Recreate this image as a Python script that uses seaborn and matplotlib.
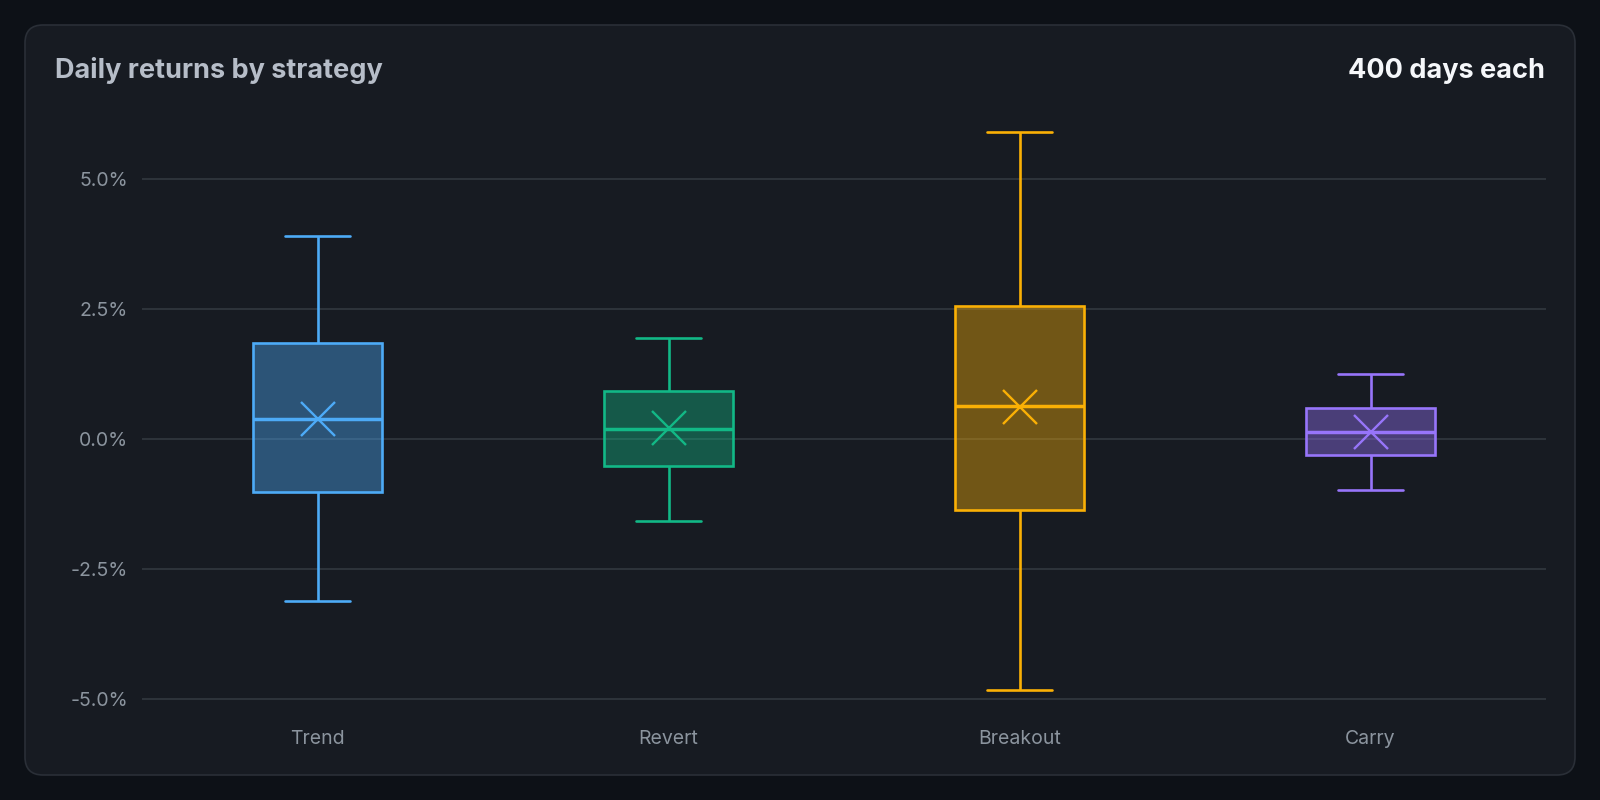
import pandas as pd
import seaborn as sns
import matplotlib.pyplot as plt
from matplotlib.colors import to_rgba
from matplotlib.patches import FancyBboxPatch
from matplotlib.ticker import FuncFormatter

# Strategies and their colours
strategies = ['Trend', 'Revert', 'Breakout', 'Carry']
colors = ['#4dabf7', '#12b886', '#fab005', '#9775fa']

# Five-number summaries of daily returns (%)
lows = [-3.11, -1.57, -4.83, -0.98]
q1s = [-1.02, -0.51, -1.36, -0.30]
medians = [0.39, 0.19, 0.64, 0.14]
q3s = [1.84, 0.92, 2.56, 0.60]
highs = [3.91, 1.95, 5.92, 1.26]
means = [0.39, 0.21, 0.62, 0.14]

yticks = [-5.0, -2.5, 0.0, 2.5, 5.0]

# long table: the five summary values per strategy reproduce the box exactly
rows = []
for i, name in enumerate(strategies):
    for v in (lows[i], q1s[i], medians[i], q3s[i], highs[i]):
        rows.append({'strategy': name, 'ret': v})
df = pd.DataFrame(rows)
mean_df = pd.DataFrame({'strategy': strategies, 'mean': means})

sns.set_theme(style='dark')
plt.rcParams['font.family'] = ['Inter', 'DejaVu Sans']
plt.rcParams['axes.unicode_minus'] = False

BG = '#0d1117'
CARD = '#171b22'
GRID = '#30363d'
TICK = '#8b949e'

fig = plt.figure(figsize=(16, 8), dpi=100)
fig.patch.set_facecolor(BG)

card = FancyBboxPatch((0.25, 0.25), 15.5, 7.5,
                      boxstyle='round,pad=0,rounding_size=0.18',
                      transform=fig.dpi_scale_trans,
                      facecolor=CARD, edgecolor='#2a2f37', linewidth=1.2,
                      zorder=-10)
fig.add_artist(card)

ax = fig.add_axes([0.08875, 0.1071, 0.8775, 0.7531])
ax.set_facecolor('none')
ax.set_zorder(1)

for name, c in zip(strategies, colors):
    sub = df[df['strategy'] == name]
    sns.boxplot(data=sub, x='strategy', y='ret', order=strategies,
                color=c, linecolor=c, saturation=1, whis=(0, 100),
                width=0.37, linewidth=1.9, showfliers=False,
                medianprops=dict(linewidth=2.5), ax=ax)

for patch, c in zip(ax.patches, colors):
    patch.set_facecolor(to_rgba(c, 0.4))
    patch.set_edgecolor(c)

sns.pointplot(data=mean_df, x='strategy', y='mean', order=strategies,
              hue='strategy', palette=colors, markers='x', linestyle='none',
              markersize=24, markeredgewidth=1.7, errorbar=None,
              legend=False, ax=ax)
for ln in ax.lines[-4:]:
    ln.set_zorder(6)

ax.set_xlim(-0.5, 3.5)
ax.set_ylim(-5.3, 6.3)
ax.set_yticks(yticks)
ax.yaxis.set_major_formatter(FuncFormatter(lambda v, p: f'{v:.1f}%'))
ax.grid(axis='y', color=GRID, linewidth=1.3)
ax.grid(axis='x', visible=False)
ax.set_axisbelow(True)
for s in ax.spines.values():
    s.set_visible(False)
ax.tick_params(axis='both', length=0, colors=TICK, labelsize=14)
ax.tick_params(axis='y', pad=10)
ax.tick_params(axis='x', pad=11)
ax.set_xlabel('')
ax.set_ylabel('')

fig.text(55 / 1600, 1 - 71 / 800, 'Daily returns by strategy', color='#b6bdc8',
         fontsize=19.5, fontweight='bold', ha='left', va='center')
fig.text(1545 / 1600, 1 - 71 / 800, '400 days each', color='#f5f7fa',
         fontsize=19.5, fontweight='bold', ha='right', va='center')

fig.savefig('out.png', dpi=100, facecolor=BG)
